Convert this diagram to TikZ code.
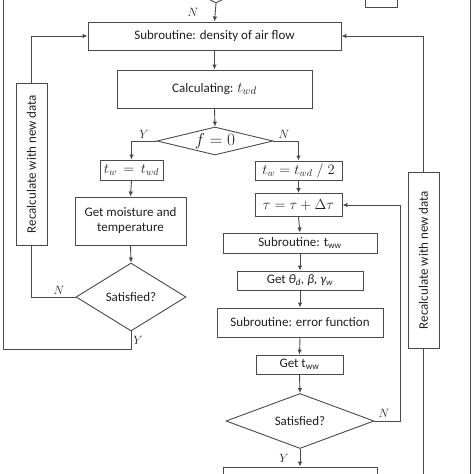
\documentclass[tikz,border=0pt]{standalone}
\usepackage{fontspec}
\setmainfont{Carlito}
\usetikzlibrary{shapes.geometric,arrows.meta}
\definecolor{ln}{HTML}{4A4A4A}
\definecolor{tx}{HTML}{202020}
\tikzset{
  box/.style={draw=ln, line width=0.9pt, inner sep=0pt, minimum width=#1, font=\fontsize{13}{15}\selectfont, text=tx, align=center},
  dia/.style={draw=ln, line width=0.9pt, diamond, inner sep=0pt, font=\fontsize{13}{15}\selectfont, text=tx},
  conn/.style={draw=ln, line width=0.9pt},
  arr/.style={conn, -{Latex[length=5pt,width=4.5pt]}},
  lab/.style={inner sep=0pt, font=\fontsize{13}{13}\selectfont, text=tx},
  rtext/.style={rotate=90, font=\fontsize{13}{15}\selectfont, text=tx, inner sep=0pt},
}
\begin{document}
\begin{tikzpicture}[x=1pt,y=-1pt]
\useasboundingbox (0,0) rectangle (474,474);
\clip (0,0) rectangle (474,474);
% partial elements at the top
\node[dia, minimum width=100pt, minimum height=50pt] (top) at (216,-22) {};
\node[box=32pt, minimum height=30pt] (tr) at (381,-8) {};
% main boxes
\node[box=253pt, minimum height=28pt] (sub) at (214.5,36) {Subroutine: density of air flow};
\node[box=195pt, minimum height=38pt] (calc) at (214.5,89) {Calculating: {\fontsize{15}{15}\selectfont$t_{wd}$}};
\node[dia, shape aspect=4.2, minimum width=116pt, minimum height=28pt] (d1) at (215,141) {\fontsize{16}{16}\selectfont$f=0$};
\node[box=63pt, minimum height=20pt] (tw1) at (131.5,170) {\fontsize{14}{14}\selectfont$t_w\,=\,t_{wd}$};
\node[box=111pt, minimum height=48pt] (moist) at (130.5,221) {Get moisture and\\temperature};
\node[dia, shape aspect=1.6, minimum width=110pt, minimum height=68pt] (sat1) at (131,297) {Satisfied?};
\node[box=31pt, minimum height=162pt] (rec1) at (31.5,164) {};
\node[rtext] (rec1t) at (rec1.center) {Recalculate with new data};
\node[box=87pt, minimum height=19pt] (tw2) at (298.5,170.5) {\fontsize{14}{14}\selectfont$t_w=t_{wd}\;/\;2$};
\node[box=87pt, minimum height=23pt] (tau) at (298.5,205) {\fontsize{15}{15}\selectfont$\tau=\tau+\Delta\tau$};
\node[box=154pt, minimum height=20pt] (subww) at (300,243) {Subroutine: t\textsubscript{ww}};
\node[box=126pt, minimum height=19pt] (getth) at (300,280.5) {Get \textit{θ\textsubscript{d}, β, γ\textsubscript{w}}};
\node[box=166pt, minimum height=29pt] (err) at (300,322.5) {Subroutine: error function};
\node[box=87pt, minimum height=19pt] (gettww) at (299.5,364.5) {Get t\textsubscript{ww}};
\node[dia, shape aspect=2.7, minimum width=148pt, minimum height=55pt] (sat2) at (300,421) {Satisfied?};
\node[box=154pt, minimum height=30pt] (bot) at (300,482) {};
\node[box=31pt, minimum height=176pt] (rec2) at (423.5,260) {};
\node[rtext] (rec2t) at (rec2.center) {Recalculate with new data};
\coordinate (lb) at (3,349);
\coordinate (lt) at (3,-10);
\coordinate (rb) at (423.5,480);
\coordinate (ft) at (470,-10);
\coordinate (fb) at (470,480);
% connectors
\draw[arr] (top.south) -- (sub.north);
\node[lab] (nt) at (193,12) {$N$};
\draw[arr] (sub.south) -- (calc.north);
\draw[arr] (calc.south) -- (d1.north);
\draw[arr] (d1.west) -| (tw1.north);
\node[lab] (y1) at (144,134) {$Y$};
\draw[arr] (d1.east) -| (tw2.north);
\node[lab] (n1) at (284,134) {$N$};
\draw[arr] (tw1.south) -- (moist.north);
\draw[arr] (moist.south) -- (sat1.north);
\draw[conn] (sat1.west) -| (rec1.south);
\node[lab] (n2) at (59,290) {$N$};
\draw[arr] (rec1.north) |- (sub.west);
\draw[conn] (sat1.south) |- (lb) -- (lt);
\node[lab] (y2) at (138,340) {$Y$};
\draw[arr] (tw2.south) -- (tau.north);
\draw[arr] (tau.south) -- (subww.north);
\draw[arr] (subww.south) -- (getth.north);
\draw[arr] (getth.south) -- (err.north);
\draw[arr] (err.south) -- (gettww.north);
\draw[arr] (gettww.south) -- (sat2.north);
\draw[arr] (sat2.east) -- ++(26,0) |- (tau.east);
\node[lab] (n3) at (384,413) {$N$};
\draw[arr] (sat2.south) -- (bot.north);
\node[lab] (y3) at (284,458) {$Y$};
\draw[arr] (rec2.north) |- (sub.east);
\draw[conn] (rec2.south) -- (rb);
\draw[conn] (ft) -- (fb);
\end{tikzpicture}
\end{document}
